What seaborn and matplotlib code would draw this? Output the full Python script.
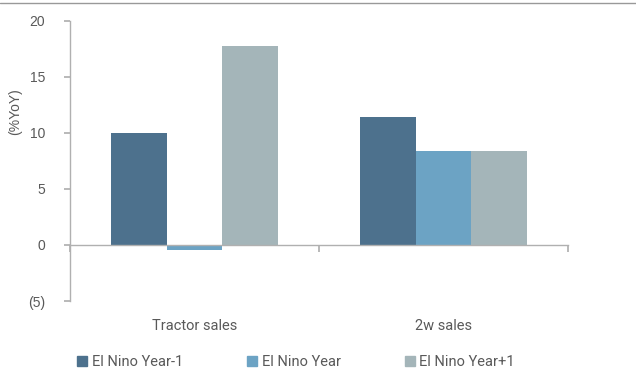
import matplotlib
matplotlib.use("Agg")
import matplotlib.pyplot as plt
import seaborn as sns
import pandas as pd
from matplotlib.lines import Line2D
from matplotlib.ticker import FuncFormatter

categories = ["Tractor sales", "2w sales"]
series = ["El Nino Year-1", "El Nino Year", "El Nino Year+1"]
year_minus_1 = [10.0, 11.4]
year_0 = [-0.45, 8.4]
year_plus_1 = [17.8, 8.35]
colors = ["#4d718d", "#6ca3c4", "#a4b5b9"]

rows = []
for s, vals in zip(series, [year_minus_1, year_0, year_plus_1]):
    for c, v in zip(categories, vals):
        rows.append({"cat": c, "series": s, "val": v})
df = pd.DataFrame(rows)

sns.set_theme(style="white")
plt.rcParams["font.family"] = ["Roboto", "DejaVu Sans"]

fig = plt.figure(figsize=(6.36, 3.74), dpi=100)
ax = fig.add_axes([70/636, 1-301/374, (568-70)/636, (301-21)/374])

sns.barplot(data=df, x="cat", y="val", hue="series", palette=colors,
            width=0.667, ax=ax, saturation=1, edgecolor="none", linewidth=0)

gray = "#b0b0b0"
txt = "#595959"
ax.set_ylim(-5, 20)
ax.set_xlim(-0.5, 1.5)
ax.set_yticks([-5, 0, 5, 10, 15, 20])
ax.yaxis.set_major_formatter(FuncFormatter(lambda v, p: f"({abs(int(v))})" if v < 0 else f"{int(v)}"))
ax.tick_params(axis="y", length=4, color=gray, labelcolor=txt, labelsize=10, pad=14, left=True, direction="out")
for lab in ax.get_yticklabels():
    lab.set_fontfamily(["Liberation Sans", "DejaVu Sans"])
ax.set_ylabel("(%YoY)", color=txt, fontsize=10, fontfamily=["Liberation Sans", "DejaVu Sans"],
              va="center", ha="center")
ax.yaxis.set_label_coords(-0.11, 0.675)
ax.set_xlabel("")

for sp in ["top", "right"]:
    ax.spines[sp].set_visible(False)
ax.spines["left"].set_color(gray)
ax.spines["left"].set_linewidth(1)
ax.spines["bottom"].set_position(("data", 0))
ax.spines["bottom"].set_color(gray)
ax.spines["bottom"].set_linewidth(1)
ax.set_xticks([-0.5, 0.5, 1.5])
ax.set_xticklabels(["", "", ""])
ax.tick_params(axis="x", length=5, color=gray, bottom=True, direction="out")

sec = ax.secondary_xaxis(0)
sec.set_xticks([0, 1])
sec.set_xticklabels(categories)
sec.tick_params(length=0, pad=13, labelsize=10.5, labelcolor=txt)
sec.spines["bottom"].set_visible(False)

ax.legend_.remove()
handles = [plt.Rectangle((0, 0), 1, 1, color=c) for c in colors]
fig.legend(handles, series, loc="center", bbox_to_anchor=(296/636, 1-362/374), ncol=3,
           frameon=False, fontsize=10.5, handlelength=0.7, handleheight=0.7,
           handletextpad=0.3, columnspacing=4.4, labelcolor=txt)

fig.add_artist(Line2D([0, 1], [1-2.5/374, 1-2.5/374], transform=fig.transFigure, color="#999999", linewidth=1))

fig.savefig("out.png", dpi=100)
